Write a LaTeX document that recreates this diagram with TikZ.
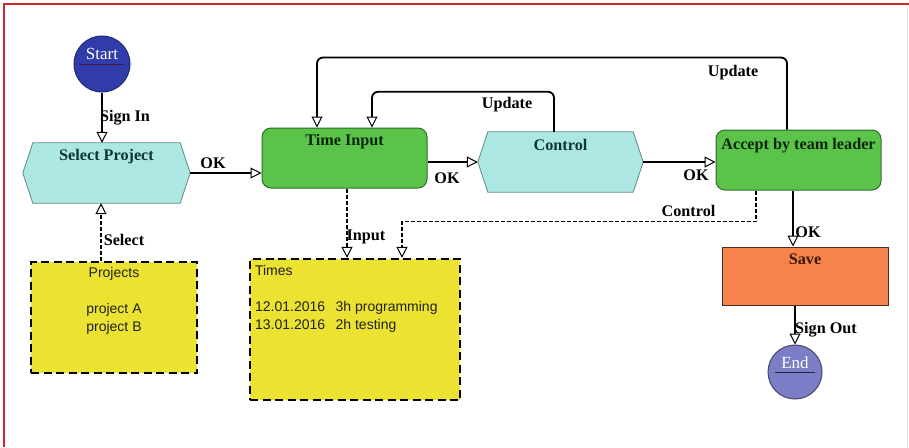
\documentclass[tikz,border=0pt]{standalone}
\usepackage{fontspec}
\setmainfont{Liberation Serif}
\setsansfont{Liberation Sans}
\usetikzlibrary{arrows.meta,backgrounds,calc}

\definecolor{frameRed}{HTML}{D02828}
\definecolor{startBlue}{HTML}{2F3CA9}
\definecolor{endBlue}{HTML}{7B7DC6}
\definecolor{hexFill}{HTML}{ADE7E3}
\definecolor{hexLine}{HTML}{5E8A88}
\definecolor{hexText}{HTML}{0E3636}
\definecolor{greenFill}{HTML}{5CC34A}
\definecolor{greenLine}{HTML}{2C6E28}
\definecolor{greenText}{HTML}{0A260A}
\definecolor{saveFill}{HTML}{F5834B}
\definecolor{saveLine}{HTML}{4A3020}
\definecolor{saveText}{HTML}{3A1808}
\definecolor{noteFill}{HTML}{EBE232}
\definecolor{noteText}{HTML}{222222}

\tikzset{
  opentip/.tip={Triangle[width=11pt,length=11pt,fill=white,line width=1pt]},
  flow/.style={line width=1.8pt,-opentip},
  dataflow/.style={line width=1.6pt,dash pattern=on 4pt off 2pt,-opentip},
  lbl/.style={font=\fontsize{16.2}{19}\selectfont\bfseries,text=black,inner sep=0pt,anchor=base},
  boxtitle/.style={lbl},
  event/.style={circle,minimum size=56pt,inner sep=0pt,line width=1pt},
  eventtext/.style={font=\fontsize{17}{19}\selectfont,text=white,inner sep=0pt,anchor=base},
  hexnode/.style={rectangle,inner sep=0pt,minimum width=166pt,minimum height=60pt},
  hexshape/.style={fill=hexFill,draw=hexLine,line width=0.8pt},
  funcbox/.style={rectangle,rounded corners=9pt,fill=greenFill,draw=greenLine,line width=1pt,
    minimum width=165pt,minimum height=60pt,inner sep=0pt},
  savebox/.style={rectangle,fill=saveFill,draw=saveLine,line width=1pt,
    minimum width=166pt,minimum height=58pt,inner sep=0pt},
  notebox/.style={rectangle,fill=noteFill,draw=black,line width=2.2pt,
    dash pattern=on 8pt off 4.5pt,inner sep=0pt},
  notetext/.style={font=\sffamily\fontsize{14}{18}\selectfont,text=noteText,inner sep=0pt},
}

\begin{document}
\begin{tikzpicture}[x=1pt,y=-1pt]
\useasboundingbox (0,0) rectangle (909,447);
\begin{scope}[on background layer]
  \fill[white] (0,0) rectangle (909,447);
\end{scope}

% page frame
\draw[frameRed,line width=1.5pt] (909,4) -- (4,4) -- (4,447);
\draw[black!12,line width=1pt] (907,5) -- (907,447);

% start and end events
\node[event,fill=startBlue,draw=startBlue!70!black] (start) at (102,64) {};
\node[eventtext] (startT) at ([yshift=5pt]start.center) {Start};
\draw[startBlue!45!black!80!red,line width=1pt] ([xshift=-22pt]start.center) -- ([xshift=22pt]start.center);

\node[event,fill=endBlue,draw=endBlue!55!black,minimum size=54pt] (end) at (795,372) {};
\node[eventtext] (endT) at ([yshift=4pt]end.center) {End};
\draw[endBlue!30!black,line width=1pt] ([xshift=-20pt]end.center) -- ([xshift=20pt]end.center);

% hexagonal steps
\node[hexnode,minimum width=167pt] (sel) at (106.5,173) {};
\node[hexnode,minimum width=165pt] (ctl) at (560.5,162) {};
\begin{scope}[on background layer]
  \foreach \h in {sel,ctl}
    \draw[hexshape] (\h.west) -- ([xshift=10pt]\h.north west) -- ([xshift=-10pt]\h.north east)
      -- (\h.east) -- ([xshift=-10pt]\h.south east) -- ([xshift=10pt]\h.south west) -- cycle;
\end{scope}
\node[boxtitle,text=hexText] (selT) at ([yshift=-18pt]sel.north) {Select Project};
\node[boxtitle,text=hexText] (ctlT) at ([yshift=-19pt]ctl.north) {Control};

% functions
\node[funcbox] (ti) at (344.5,158) {};
\node[boxtitle,text=greenText] (tiT) at ([yshift=-18pt]ti.north) {Time Input};
\node[funcbox] (acc) at (798.5,160) {};
\node[boxtitle,text=greenText] (accT) at ([yshift=-20pt]acc.north) {Accept by team leader};

\node[savebox] (save) at (805,276) {};
\node[boxtitle,text=saveText] (saveT) at ([yshift=-18pt]save.north) {Save};

% data objects
\node[notebox,minimum width=166pt,minimum height=111pt] (proj) at (114,317.5) {};
\node[notetext,align=center,anchor=north] (projT) at ([yshift=-6pt]proj.north)
  {Projects\\[18pt]project A\\project B};
\node[notebox,minimum width=210pt,minimum height=141pt] (times) at (355,329.5) {};
\node[notetext,align=left,anchor=north west] (timesT) at ([xshift=6pt,yshift=-7pt]times.north west)
  {Times\\[18pt]12.01.2016\hspace{0.75em}3h programming\\13.01.2016\hspace{0.75em}2h testing};

% control flow
\draw[flow] (start.south) -- (start.south |- sel.north);
\draw[flow] (sel.east) -- (sel.east -| ti.west);
\draw[flow] (ti.east |- ctl.west) -- (ctl.west);
\draw[flow] (ctl.east) -- (ctl.east -| acc.west);
\draw[flow,rounded corners=6pt] ([xshift=-6.5pt]ctl.north) -- ++(0,-40) -| ([xshift=27.5pt]ti.north);
\draw[flow,rounded corners=6pt] ([xshift=-11.5pt]acc.north) -- ++(0,-72) -| ([xshift=-27.5pt]ti.north);
\draw[flow] ([xshift=-5.5pt]acc.south) -- ([xshift=-5.5pt]acc.south |- save.north);
\draw[flow] (end.north |- save.south) -- (end.north);

% data flow
\draw[dataflow] ([xshift=-13pt]proj.north) -- ([xshift=-13pt]proj.north |- sel.south);
\draw[dataflow] ([xshift=2.5pt]ti.south) -- ([xshift=2.5pt]ti.south |- times.north);
\draw[dataflow] ([xshift=-42.5pt]acc.south) -- ++(0,31) -| ([xshift=47pt]times.north);

% connector labels
\node[lbl] (lSignIn) at (125,121) {Sign In};
\node[lbl] (lOk1) at (213,168) {OK};
\node[lbl] (lOk2) at (447,183) {OK};
\node[lbl] (lOk3) at (696,180) {OK};
\node[lbl] (lUpd1) at (507,108) {Update};
\node[lbl] (lUpd2) at (733,76) {Update};
\node[lbl] (lCtl) at (688.5,216) {Control};
\node[lbl] (lOk4) at (808,237) {OK};
\node[lbl] (lSignOut) at (826,333) {Sign Out};
\node[lbl] (lInput) at (366,240) {Input};
\node[lbl] (lSelect) at (124,245) {Select};
\end{tikzpicture}
\end{document}
